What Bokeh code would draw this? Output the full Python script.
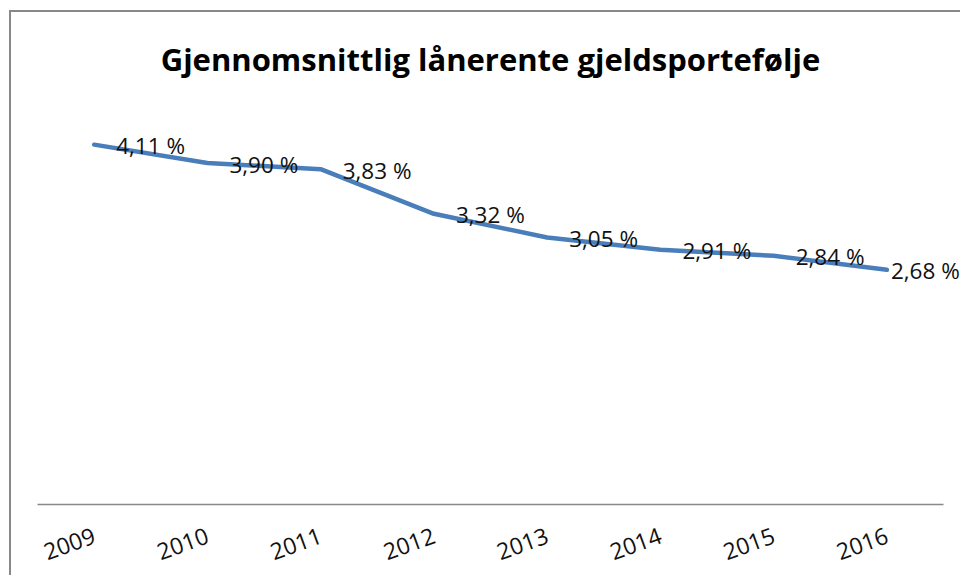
from bokeh.plotting import figure
from bokeh.models import (ColumnDataSource, LabelSet, Label, Range1d,
                          FixedTicker, CustomJSTickFormatter)
from bokeh.core.properties import value
from bokeh.embed import file_html
from bokeh.resources import INLINE

# ---- data ----
years = ["2009", "2010", "2011", "2012", "2013", "2014", "2015", "2016"]
rates = [4.11, 3.90, 3.83, 3.32, 3.05, 2.91, 2.84, 2.68]
title_text = "Gjennomsnittlig lånerente gjeldsportefølje"
y_axis_max = 4.5

# ---- layout (pixels) ----
W, H = 960, 575
PX_LEFT, PX_RIGHT = 37, 943        # plot-area extent of the categories
PX_ZERO, PX_YMAX = 504, 110        # pixel rows of y=0 and y=y_axis_max
FRAME_BOTTOM = 506
TITLE_PX_Y = 58

n = len(years)
xs = list(range(n))
cat_px = (PX_RIGHT - PX_LEFT) / n
y_px = (PX_ZERO - PX_YMAX) / y_axis_max
x_start = -0.5 - PX_LEFT / cat_px
x_end = x_start + W / cat_px
y_end = PX_ZERO / y_px
y_start = -(FRAME_BOTTOM - PX_ZERO) / y_px

labels = [f"{v:.2f}".replace(".", ",") + " %" for v in rates]
x_offsets = [22] * (n - 1) + [4]

src = ColumnDataSource(dict(x=xs, year=years, rate=rates, label=labels, xoff=x_offsets))

p = figure(
    x_range=Range1d(x_start, x_end),
    y_range=Range1d(y_start, y_end),
    width=W, height=H,
    output_backend="svg",
    toolbar_location=None,
    y_axis_location=None,
    min_border_left=0, min_border_right=0,
    min_border_top=0, min_border_bottom=H - FRAME_BOTTOM,
)

# transparent canvas; chart-area border (left/top, as in the cropped original) via CSS
p.background_fill_color = None
p.border_fill_color = None
p.styles = {
    "background": "linear-gradient(#888888, #888888) 9px 10px / 2px 100% no-repeat, "
                  "linear-gradient(#888888, #888888) 9px 10px / 100% 2px no-repeat, "
                  "#ffffff"
}
p.outline_line_color = None
p.xgrid.visible = False
p.ygrid.visible = False

# title
p.add_layout(Label(x=(n - 1) / 2, y=(PX_ZERO - TITLE_PX_Y) / y_px,
                   text=title_text, text_align="center", text_baseline="middle",
                   text_font="Open Sans", text_font_style="bold",
                   text_font_size="31px", text_color="#000000"))

# x axis: category labels only, baseline drawn across the categories
ax = p.xaxis[0]
ax.ticker = FixedTicker(ticks=xs)
ax.formatter = CustomJSTickFormatter(args=dict(labels=years),
                                     code="return labels[Math.round(tick)] || '';")
ax.axis_line_color = None
ax.major_tick_line_color = None
ax.minor_tick_line_color = None
ax.major_label_orientation = 0.35
ax.major_label_text_font = "Open Sans"
ax.major_label_text_font_size = "23px"
ax.major_label_text_color = "#111111"
ax.major_label_standoff = 22

p.segment(x0=[-0.5], y0=[0], x1=[n - 0.5], y1=[0],
          line_color="#898989", line_width=1.5)

p.line(x="x", y="rate", source=src, line_width=4.5, line_color="#4A7EBB",
       line_join="round", line_cap="round")

ls = LabelSet(x="x", y="rate", text="label", source=src,
              x_offset="xoff", y_offset=-1,
              text_align="left", text_baseline="middle",
              text_font=value("Open Sans"), text_font_size="22.5px",
              text_color="#111111")
p.add_layout(ls)

open("out.html", "w").write(file_html(p, INLINE))
